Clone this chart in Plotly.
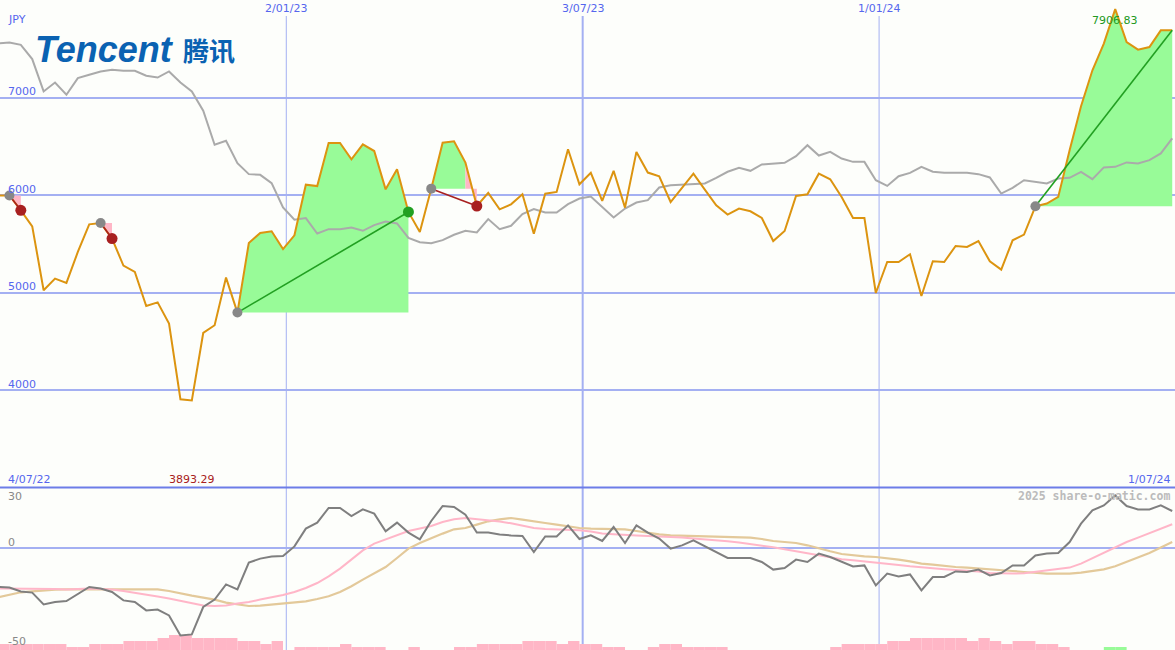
import plotly.graph_objects as go
import pandas as pd

# ---------------- data (weekly closes, JPY) ----------------
start_date = "2022-07-09"
close = [5995, 5995, 5843, 5679, 5023, 5142, 5098, 5416, 5699, 5713,
         5553, 5276, 5211, 4862, 4899, 4681, 3905, 3893.29, 4585, 4664,
         5153, 4794, 5508, 5611, 5628, 5445, 5587, 6106, 6092, 6533,
         6533, 6366, 6520, 6451, 6058, 6264, 5826, 5620, 6065, 6537,
         6551, 6332, 5887, 6021, 5853, 5904, 6007, 5604, 6014, 6031,
         6469, 6110, 6228, 5939, 6248, 5870, 6442, 6230, 6192, 5928,
         6073, 6219, 6055, 5894, 5799, 5860, 5833, 5764, 5528, 5631,
         5990, 6007, 6219, 6161, 5980, 5764, 5764, 4995, 5313, 5313,
         5392, 4964, 5320, 5313, 5477, 5467, 5528, 5320, 5235, 5535,
         5594, 5884, 5912, 5980, 6460, 6910, 7279, 7553, 7906.83, 7569,
         7491, 7518, 7689, 7689]

moving_avg = [7554, 7564, 7540, 7394, 7062, 7154, 7028, 7199, 7233, 7267,
              7284, 7274, 7274, 7223, 7205, 7267, 7154, 7062, 6864, 6515,
              6556, 6327, 6214, 6207, 6122, 5872, 5746, 5763, 5605, 5650,
              5650, 5667, 5633, 5691, 5728, 5708, 5560, 5515, 5505, 5537,
              5592, 5633, 5616, 5753, 5650, 5684, 5804, 5855, 5821, 5821,
              5907, 5964, 5985, 5878, 5769, 5861, 5923, 5947, 6077, 6101,
              6108, 6118, 6118, 6176, 6238, 6279, 6248, 6313, 6323, 6330,
              6398, 6511, 6405, 6442, 6374, 6340, 6340, 6152, 6093, 6193,
              6227, 6289, 6238, 6227, 6227, 6227, 6214, 6180, 6015, 6073,
              6152, 6135, 6118, 6169, 6176, 6238, 6163, 6283, 6289, 6334,
              6323, 6357, 6426, 6580]

oscillator = [-19.5, -19.8, -21.7, -22.3, -28.2, -27, -26.5, -22.8, -19.5, -20.3,
              -22, -26.2, -27, -31.2, -30.8, -33.7, -43.7, -43.2, -29.5, -25.8,
              -18.2, -20.7, -7.3, -5.3, -4.2, -4, 0.8, 9.7, 12.7, 20,
              20, 16, 19.3, 17.2, 8.3, 12.7, 7.7, 4.3, 13.5, 21,
              20.5, 16.7, 7.7, 7.7, 6.8, 6.3, 6, -2, 5.8, 5.8,
              11.3, 4.5, 6.3, 3.5, 10.5, 2.5, 11.3, 7.7, 4.7, -0.3,
              1.3, 3.8, 0.8, -2, -5, -5, -5, -7, -10.8, -10,
              -5.8, -7, -2.8, -4.5, -6.7, -9.2, -8.7, -18.7, -12.8, -14.2,
              -13.2, -21.2, -14.5, -14.5, -11.7, -12, -10.8, -13.7, -12.5, -8.7,
              -8.7, -3.7, -2.8, -2.5, 3, 12.2, 18.8, 21.3, 26.3, 21,
              19.3, 19.3, 21.3, 18.5]

signal_fast = [-20.3, -20.3, -20.5, -20.5, -20.5, -20.5, -20.7, -20.5, -20.3, -20.5,
               -20.8, -21.5, -22.3, -23.2, -24.2, -25.2, -26.5, -27.8, -28.8, -29,
               -28.7, -27.8, -27, -25.8, -24.8, -23.5, -22, -20, -17.5, -14.2,
               -10.3, -5.8, -1.2, 2.2, 4.35, 6.35, 8.5, 9.7, 11, 13,
               14.35, 15, 14.5, 13.85, 13.2, 12.35, 11.35, 10, 9.5, 9.35,
               9.35, 8.85, 8.2, 7.2, 6.85, 6.35, 6.2, 6, 5.85, 5.5,
               5.2, 4.7, 4.35, 3.85, 3.35, 2.7, 2, 1.35, 0.35, -0.65,
               -1.65, -2.8, -3.65, -4.8, -5.65, -6.15, -6.65, -7.3, -7.8, -8.5,
               -9.15, -9.8, -10.15, -10.65, -11, -11.3, -11.8, -12.5, -12.8, -12.8,
               -12.65, -12, -11.3, -10.65, -9.8, -7.8, -5.15, -2.5, 0.5, 3,
               5.2, 7.5, 9.85, 11.85]

signal_slow = [-24.65, -23.5, -22.15, -21.65, -21.15, -20.8, -20.65, -20.65, -20.65, -20.8,
               -20.65, -20.5, -20.5, -20.5, -20.65, -21.5, -22.8, -23.8, -24.8, -25.8,
               -27.3, -28.3, -29, -28.8, -28.3, -28, -27.5, -26.65, -25.5, -24.15,
               -22, -19.15, -15.8, -12.8, -9.5, -5, -0.3, 2.5, 5, 7.2,
               9.35, 10, 11.7, 13.35, 14.35, 15, 14.2, 13.2, 12.5, 11.7,
               11, 10, 9.7, 9.7, 9.7, 9.35, 8.5, 7.5, 6.85, 6.35,
               6.2, 5.85, 5.7, 5.5, 5.35, 5.35, 5.2, 4.5, 3.5, 3,
               2.5, 1.35, -0.3, -1.65, -3, -3.65, -4.15, -4.5, -5, -5.8,
               -6.65, -7.8, -8.3, -9, -9.5, -9.8, -10.15, -10.5, -11, -11.5,
               -12, -12.5, -12.8, -12.8, -12.8, -12.3, -11.65, -10.65, -9.15, -7,
               -5, -2.5, 0.2, 3]

histogram = [-3, -3, -3, -3, -3, -3, -1.5, -1.5, -3, -3,
             -3, -4.5, -4.5, -4.5, -6, -7.5, -7.5, -6, -6, -6,
             -6, -4.5, -4.5, -3, -4.5, 0, -1.5, -1.5, -1.5, -1.5,
             -3, -1.5, -1.5, -1.5, 0, 0, -1.5, 0, 0, 0,
             -1.5, -1.5, -3, -3, -3, -3, -4.5, -4.5, -4.5, -3,
             -4.5, -3, -3, -1.5, -1.5, 0, 0, -1.5, -3, -3,
             -1.5, -1.5, -1.5, -1.5, 0, 0, 0, 0, 0, 0,
             0, 0, 0, -1.5, -3, -3, -3, -3, -4.5, -4.5,
             -6, -6, -6, -6, -6, -4.5, -6, -4.5, -3, -4.5,
             -4.5, -3, -3, -1.5, 0, 0, 0, 1.5, 1.5, 0,
             0, 0, 0, 0]

# trades (indices into the weekly series)
trade_entry = [1, 9, 21, 38, 91]
trade_exit = [2, 10, 36, 42, 103]
trade_open = [False, False, False, False, True]

price_ticks = [4000, 5000, 6000, 7000]
osc_ticks = [30, 0, -50]
grid_dates = ["2023-01-02", "2023-07-03", "2024-01-01"]
grid_labels = ["2/01/23", "3/07/23", "1/01/24"]
grid_widths = [1, 2, 1]
range_labels = ["4/07/22", "1/07/24"]
x_range = ["2022-07-10 05:00", "2024-06-30 17:00"]

# ---------------- style ----------------
W, H = 1175, 650
BG = "#fdfefb"
GRID = "#a4b0f2"
LABEL = "#5566ee"
ORANGE = "#dc9410"
MA_GRAY = "#aaaaaa"
OSC_GRAY = "#7f7f7f"
PINK = "#ffb6c8"
TAN = "#e3c99a"
GFILL = "#98fb98"
PFILL = "#ffb6c6"
GREEN = "#22a022"
RED = "#a82020"

dates = list(pd.date_range(start_date, periods=len(close), freq="7D"))
n = len(close)

fig = go.Figure()

# trade fill areas
for e, x_, op in zip(trade_entry, trade_exit, trade_open):
    level = close[e]
    gain = close[x_] >= level
    if gain:
        segs = [(e, x_, GFILL)]
    elif x_ - 1 > e:
        segs = [(e, x_ - 1, GFILL), (x_ - 1, x_, PFILL)]
    else:
        segs = [(e, x_, PFILL)]
    for a, b, col in segs:
        xs = dates[a:b + 1] + dates[a:b + 1][::-1]
        ys = close[a:b + 1] + [level] * (b - a + 1)
        fig.add_trace(go.Scatter(x=xs, y=ys, fill="toself", fillcolor=col,
                                 line=dict(width=0), mode="lines",
                                 hoverinfo="skip", showlegend=False,
                                 xaxis="x", yaxis="y"))

# moving average and price
fig.add_trace(go.Scatter(x=dates, y=moving_avg, mode="lines",
                         line=dict(color=MA_GRAY, width=2), showlegend=False,
                         xaxis="x", yaxis="y"))
fig.add_trace(go.Scatter(x=dates, y=close, mode="lines",
                         line=dict(color=ORANGE, width=2), showlegend=False,
                         xaxis="x", yaxis="y"))

# trade lines and markers
for e, x_, op in zip(trade_entry, trade_exit, trade_open):
    gain = close[x_] >= close[e]
    col = GREEN if gain else RED
    fig.add_trace(go.Scatter(x=[dates[e], dates[x_]], y=[close[e], close[x_]],
                             mode="lines", line=dict(color=col, width=1.6),
                             showlegend=False, xaxis="x", yaxis="y"))
    fig.add_trace(go.Scatter(x=[dates[e]], y=[close[e]], mode="markers",
                             marker=dict(color="#888888", size=10, line=dict(width=0)),
                             showlegend=False, xaxis="x", yaxis="y"))
    if not op:
        fig.add_trace(go.Scatter(x=[dates[x_]], y=[close[x_]], mode="markers",
                                 marker=dict(color=col, size=11, line=dict(width=0)),
                                 showlegend=False, xaxis="x", yaxis="y"))

# lower panel
bar_colors = [GFILL if v > 0 else PFILL for v in histogram]
fig.add_trace(go.Bar(x=dates, y=[abs(v) for v in histogram], base=-51,
                     width=7 * 86400000, offset=0,
                     marker=dict(color=bar_colors, line=dict(width=0)),
                     showlegend=False, xaxis="x2", yaxis="y2"))
fig.add_trace(go.Scatter(x=dates, y=signal_slow, mode="lines",
                         line=dict(color=TAN, width=2.2), showlegend=False,
                         xaxis="x2", yaxis="y2"))
fig.add_trace(go.Scatter(x=dates, y=signal_fast, mode="lines",
                         line=dict(color=PINK, width=2), showlegend=False,
                         xaxis="x2", yaxis="y2"))
fig.add_trace(go.Scatter(x=dates, y=oscillator, mode="lines",
                         line=dict(color=OSC_GRAY, width=2), showlegend=False,
                         xaxis="x2", yaxis="y2"))

shapes = []
for d, w in zip(grid_dates, grid_widths):
    shapes.append(dict(type="line", xref="x", yref="paper", x0=d, x1=d,
                       y0=0, y1=1 - 16 / H, line=dict(color=GRID, width=w),
                       layer="below"))
# panel separator
shapes.append(dict(type="line", xref="paper", yref="paper", x0=0, x1=1,
                   y0=0.25, y1=0.25, line=dict(color="#6d7de8", width=2)))

ann = []
def txt(x, y, s, color=LABEL, xanchor="left", size=11, xref="paper",
        family="DejaVu Sans"):
    ann.append(dict(x=x, y=y, xref=xref, yref="paper", text=s, showarrow=False,
                    xanchor=xanchor, yanchor="middle",
                    font=dict(family=family, size=size, color=color)))

txt(6 / W, 1 - 19 / H, "JPY")
for t in price_ticks:
    ypix = (8000 - t) / 5000 * 487.5
    txt(6 / W, 1 - (ypix - 6) / H, str(t))
for d, lab in zip(grid_dates, grid_labels):
    txt(d, 1 - 9 / H, lab, xanchor="center", xref="x")
txt(6 / W, 1 - 479 / H, range_labels[0])
txt(1172 / W, 1 - 479 / H, range_labels[1], xanchor="right")
i_min = close.index(min(close))
i_max = close.index(max(close))
txt(dates[i_min], 1 - 479 / H, f"{min(close):.2f}", color="#a82020",
    xanchor="center", xref="x")
txt(dates[i_max], 1 - 21 / H, f"{max(close):.2f}", color="#229922",
    xanchor="center", xref="x")
txt(1172 / W, 1 - 496 / H, "<b>2025 share-o-matic.com</b>", color="#bbbbbb",
    xanchor="right", size=11.5, family="DejaVu Sans Mono")
for t, ypix in zip(osc_ticks, [496, 542, 641]):
    txt(6 / W, 1 - ypix / H, str(t), color="#888888")

# logo
ann.append(dict(x=33 / W, y=1 - 49 / H, xref="paper", yref="paper",
                text="<b><i>Tencent</i></b>", showarrow=False, xanchor="left",
                yanchor="middle",
                font=dict(family="Liberation Sans", size=36, color="#0a62b2")))
ann.append(dict(x=181 / W, y=1 - 49 / H, xref="paper", yref="paper",
                text="<b>腾讯</b>", showarrow=False, xanchor="left",
                yanchor="middle",
                font=dict(family="Noto Sans CJK SC", size=26, color="#0a62b2")))

fig.update_layout(
    width=W, height=H, margin=dict(l=0, r=0, t=0, b=0),
    paper_bgcolor=BG, plot_bgcolor=BG, showlegend=False, barmode="overlay",
    hovermode=False,
    xaxis=dict(type="date", range=x_range, domain=[0, 1], anchor="y",
               showgrid=False, showticklabels=False, zeroline=False,
               showline=False, ticks=""),
    xaxis2=dict(type="date", range=x_range, domain=[0, 1], anchor="y2",
                matches="x", showgrid=False, showticklabels=False,
                zeroline=False, showline=False, ticks=""),
    yaxis=dict(range=[3000, 8000], domain=[0.25, 1], tickvals=price_ticks,
               showgrid=True, gridcolor=GRID, gridwidth=2,
               showticklabels=False, zeroline=False, showline=False, ticks=""),
    yaxis2=dict(range=[-51, 30], domain=[0, 162 / H], tickvals=[0],
                showgrid=True, gridcolor=GRID, gridwidth=2,
                showticklabels=False, zeroline=False, showline=False, ticks=""),
    shapes=shapes, annotations=ann,
)

fig.write_html("out.html", config={"displayModeBar": False, "staticPlot": True})

# remove the browser's default page margin so the figure fills the window
with open("out.html", encoding="utf-8") as f:
    page = f.read()
page = page.replace("<body>", '<body style="margin:0;padding:0;overflow:hidden">', 1)
with open("out.html", "w", encoding="utf-8") as f:
    f.write(page)
